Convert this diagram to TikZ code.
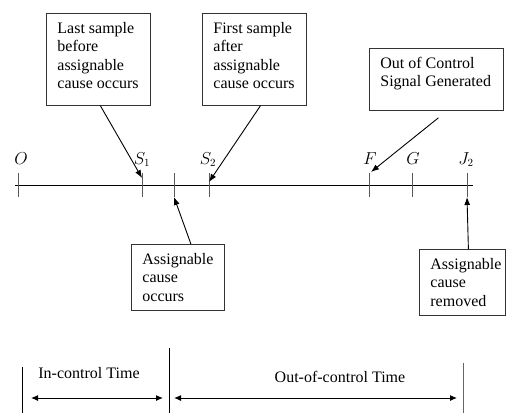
\documentclass[tikz,border=0pt]{standalone}
\usepackage{fontspec}
\setmainfont{Liberation Serif}
\usetikzlibrary{arrows.meta}
\newcommand{\bxt}[3]{\begin{minipage}[c][#2][t]{#1}\raggedright\leftskip=11pt\rule{0pt}{20pt}#3\end{minipage}}
\tikzset{
  box/.style={draw=black!80, line width=0.8pt, inner sep=0pt, anchor=north west, font=\fontsize{16}{18.5}\selectfont},
  tick/.style={draw=black!65, line width=0.9pt},
  pointer/.style={draw=black, line width=0.9pt, -{Latex[length=8pt,width=6pt]}},
  span/.style={draw=black, line width=1pt, {Latex[length=7pt,width=6pt]}-{Latex[length=7pt,width=6pt]}},
  lbl/.style={anchor=base, inner sep=0pt, font=\fontsize{16}{18.5}\selectfont},
}
\begin{document}
\begin{tikzpicture}[x=1pt,y=-1pt]
\useasboundingbox (0,0) rectangle (506,413);
% boxes
\node[box] (b1) at (46,13) {\bxt{104pt}{92pt}{Last sample\\before\\assignable\\cause occurs}};
\node[box] (b2) at (202,13) {\bxt{104pt}{92pt}{First sample\\after\\assignable\\cause occurs}};
\node[box] (b3) at (369,48) {\bxt{134pt}{62pt}{Out of Control\\Signal Generated}};
\node[box] (b4) at (131,244) {\bxt{93pt}{66pt}{Assignable\\cause\\occurs}};
\node[box] (b5) at (419,249) {\bxt{86pt}{66pt}{Assignable\\cause\\removed}};
% axis
\coordinate (a0) at (15,185);
\coordinate (a1) at (473,185);
\draw[black, line width=0.9pt] (a0) -- (a1);
\coordinate (tOt) at (18,173);  \coordinate (tOb) at (18,197);
\coordinate (tAt) at (142,173); \coordinate (tAb) at (142,197);
\coordinate (tCt) at (174,173); \coordinate (tCb) at (174,197);
\coordinate (tBt) at (209,173); \coordinate (tBb) at (209,197);
\coordinate (tFt) at (369,173); \coordinate (tFb) at (369,197);
\coordinate (tGt) at (412,173); \coordinate (tGb) at (412,197);
\coordinate (tJt) at (467,173); \coordinate (tJb) at (467,197);
\draw[tick] (tOt) -- (tOb);
\draw[tick] (tAt) -- (tAb);
\draw[tick] (tCt) -- (tCb);
\draw[tick] (tBt) -- (tBb);
\draw[tick] (tFt) -- (tFb);
\draw[tick] (tGt) -- (tGb);
\draw[tick] (tJt) -- (tJb);
% labels
\node[lbl] (lO) at (21,164) {$O$};
\node[lbl] (lS1) at (142,164) {$S_1$};
\node[lbl] (lS2) at (208,164) {$S_2$};
\node[lbl] (lF) at (370,164) {$F$};
\node[lbl] (lG) at (413,164) {$G$};
\node[lbl] (lJ2) at (466,164) {$J_2$};
% pointers
\coordinate (p1) at (142,178);
\coordinate (p2) at (209,182);
\coordinate (p3) at (371,172);
\draw[pointer] ([xshift=2pt]b1.south) -- (p1);
\draw[pointer] ([xshift=6pt]b2.south) -- (p2);
\draw[pointer] ([yshift=-7pt,xshift=2pt]b3.south) -- (p3);
\draw[pointer] ([xshift=13pt]b4.north) -- (tCb);
\draw[pointer] ([xshift=6pt]b5.north) -- (tJb);
% bottom spans
\coordinate (v1a) at (22,367); \coordinate (v1b) at (22,413);
\coordinate (v2a) at (169,348); \coordinate (v2b) at (169,413);
\coordinate (v3a) at (463,363); \coordinate (v3b) at (463,413);
\draw[black, line width=0.8pt] (v1a) -- (v1b);
\draw[black, line width=0.8pt] (v2a) -- (v2b);
\draw[black!60, line width=1pt] (v3a) -- (v3b);
\coordinate (s1a) at (31,398); \coordinate (s1b) at (163,398);
\coordinate (s2a) at (174,398); \coordinate (s2b) at (457,398);
\draw[span] (s1a) -- (s1b);
\draw[span] (s2a) -- (s2b);
\node[lbl] (tin) at (89,378) {In-control Time};
\node[lbl] (tout) at (340,382) {Out-of-control Time};
\end{tikzpicture}
\end{document}
